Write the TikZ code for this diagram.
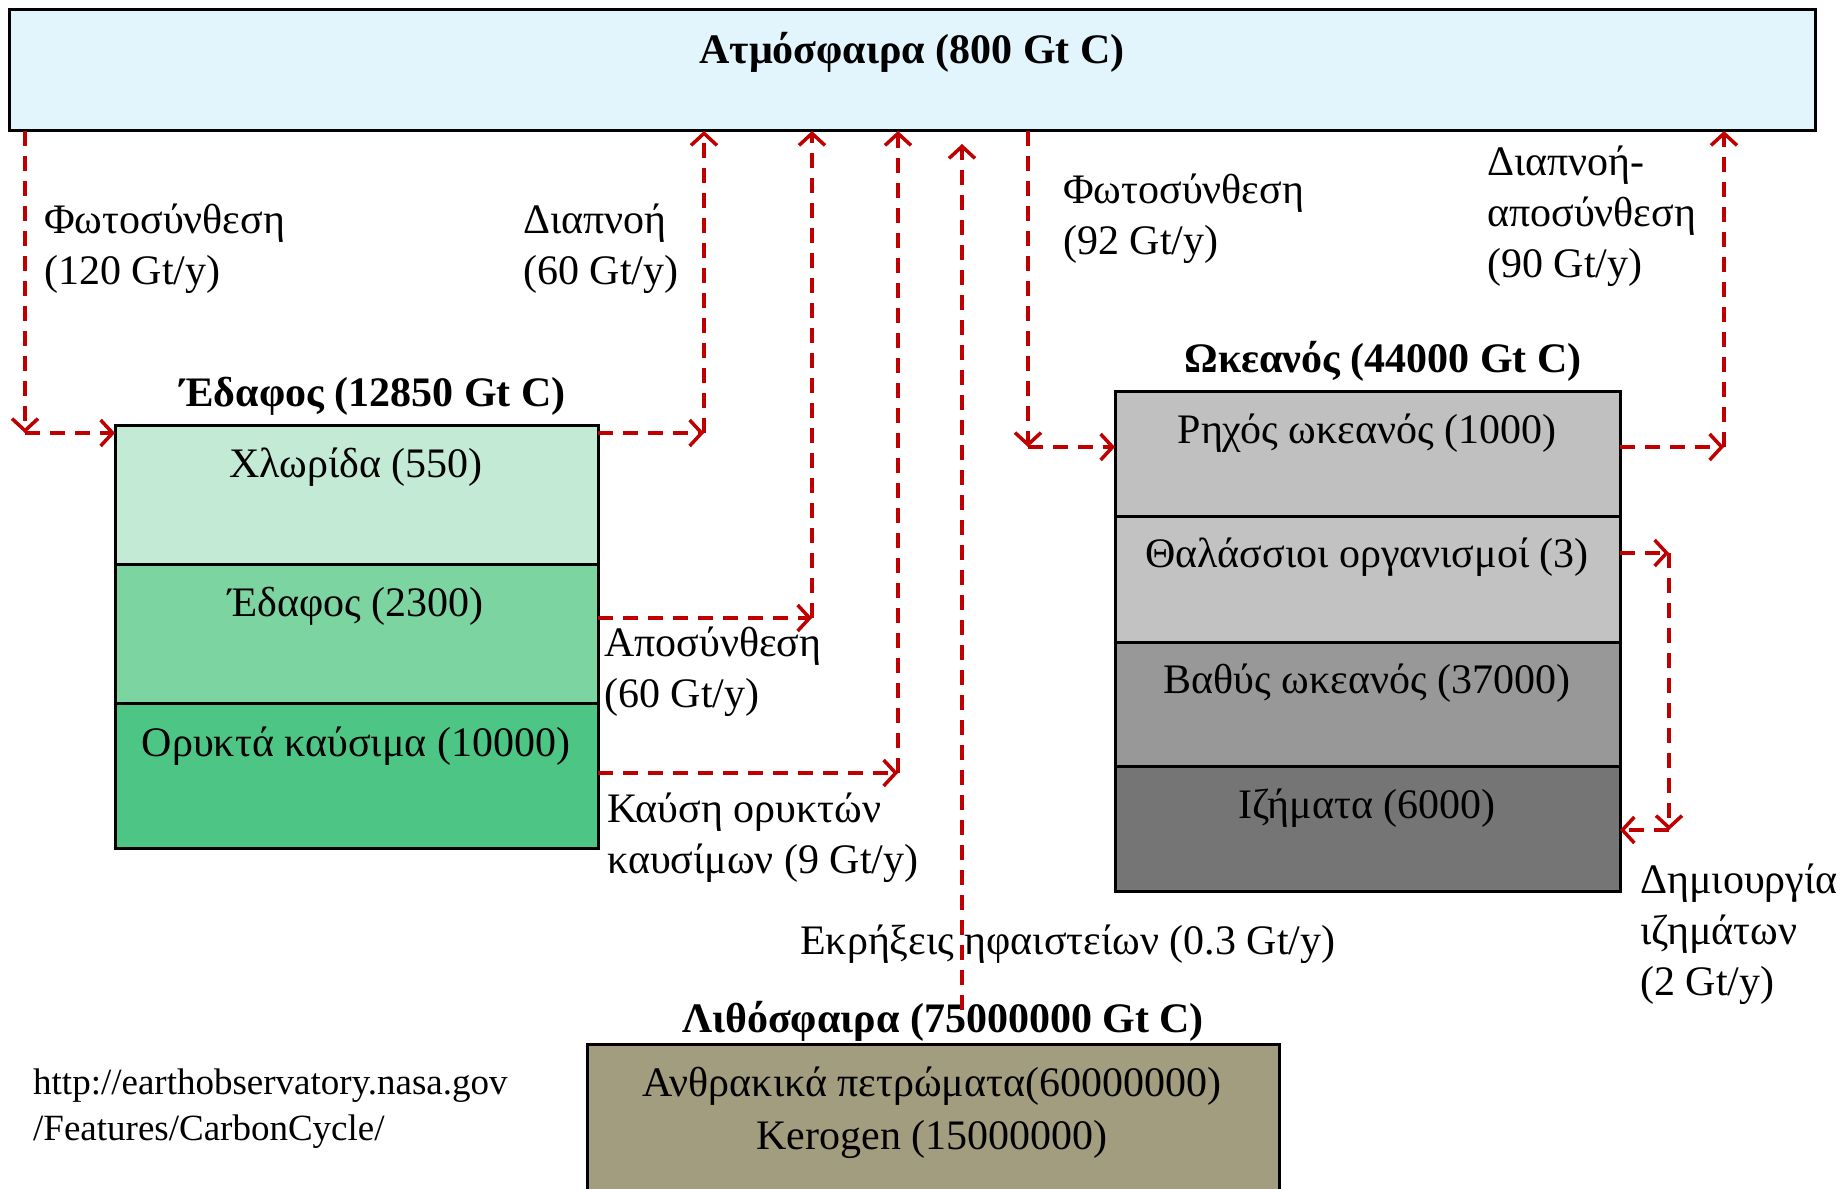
\documentclass[tikz,border=0pt]{standalone}
\usepackage{fontspec}
\setmainfont{Liberation Serif}
\usetikzlibrary{arrows.meta}
\definecolor{arrowred}{HTML}{C00000}
\definecolor{atmfill}{HTML}{E3F5FC}
\definecolor{chlfill}{HTML}{C3EAD5}
\definecolor{edfill}{HTML}{7CD4A0}
\definecolor{oilfill}{HTML}{4DC685}
\definecolor{shfill}{HTML}{C0C0C0}
\definecolor{orgfill}{HTML}{C2C2C2}
\definecolor{deepfill}{HTML}{989898}
\definecolor{sedfill}{HTML}{757575}
\definecolor{litfill}{HTML}{A29D7E}
\begin{document}
\begin{tikzpicture}[x=1pt,y=-1pt,
  box/.style={draw=black, line width=3pt, inner sep=0pt, outer sep=0pt, anchor=north west},
  flow/.style={draw=arrowred, line width=3.5pt, dash pattern=on 15pt off 10pt, -{Straight Barb[length=12pt,width=26pt]}},
  lbl/.style={font=\fontsize{42}{51}\selectfont, align=left, inner sep=0pt, anchor=west},
  ctxt/.style={font=\fontsize{42}{51}\selectfont, align=center, inner sep=0pt},
  ttl/.style={font=\bfseries\fontsize{42}{51}\selectfont, inner sep=0pt},
]
\useasboundingbox (0,0) rectangle (1846,1188);
\clip (0,0) rectangle (1846,1188);
\fill[white] (0,0) rectangle (1846,1188);

% Atmosphere
\node[box, fill=atmfill, minimum width=1806pt, minimum height=121pt] (atm) at (9,10) {};
\node[ttl] (atmT) at (912,52) {Ατμόσφαιρα (800 Gt C)};

% Soil / land
\node[ttl] (soilT) at (373,396) {Έδαφος (12850 Gt C)};
\node[box, fill=chlfill, minimum width=483pt, minimum height=139pt] (chl) at (115,425) {};
\node[box, fill=edfill, minimum width=483pt, minimum height=139pt] (ed) at (115,564) {};
\node[box, fill=oilfill, minimum width=483pt, minimum height=145pt] (oil) at (115,703) {};
\node[ctxt] (chlT) at (356,467) {Χλωρίδα (550)};
\node[ctxt] (edT) at (356,606) {Έδαφος (2300)};
\node[ctxt] (oilT) at (356,746) {Ορυκτά καύσιμα (10000)};

% Ocean
\node[ttl] (oceT) at (1383,361) {Ωκεανός (44000 Gt C)};
\node[box, fill=shfill, minimum width=505pt, minimum height=125pt] (sh) at (1115,391) {};
\node[box, fill=orgfill, minimum width=505pt, minimum height=126pt] (org) at (1115,516) {};
\node[box, fill=deepfill, minimum width=505pt, minimum height=124pt] (deep) at (1115,642) {};
\node[box, fill=sedfill, minimum width=505pt, minimum height=125pt] (sed) at (1115,766) {};
\node[ctxt] (shT) at (1367,433) {Ρηχός ωκεανός (1000)};
\node[ctxt] (orgT) at (1367,557) {Θαλάσσιοι οργανισμοί (3)};
\node[ctxt] (deepT) at (1367,683) {Βαθύς ωκεανός (37000)};
\node[ctxt] (sedT) at (1367,808) {Ιζήματα (6000)};

% Lithosphere
\node[ttl] (litT) at (943,1021) {Λιθόσφαιρα (75000000 Gt C)};
\node[box, fill=litfill, minimum width=692pt, minimum height=200pt] (lit) at (587,1044) {};
\node[ctxt] (litT1) at (932,1086) {Ανθρακικά πετρώματα(60000000)};
\node[ctxt] (litT2) at (932,1139) {Kerogen (15000000)};

% Source
\node[lbl, font=\fontsize{37}{46}\selectfont] (src) at (33,1109) {http://earthobservatory.nasa.gov\\/Features/CarbonCycle/};

% Flow labels
\node[lbl] (l1) at (44,249) {Φωτοσύνθεση\\(120 Gt/y)};
\node[lbl] (l2) at (523,249) {Διαπνοή\\(60 Gt/y)};
\node[lbl] (l3) at (604,672) {Αποσύνθεση\\(60 Gt/y)};
\node[lbl] (l4) at (607,838) {Καύση ορυκτών\\καυσίμων (9 Gt/y)};
\node[lbl] (l5) at (800,944) {Εκρήξεις ηφαιστείων (0.3 Gt/y)};
\node[lbl] (l6) at (1063,219) {Φωτοσύνθεση\\(92 Gt/y)};
\node[lbl] (l7) at (1487,216) {Διαπνοή-\\αποσύνθεση\\(90 Gt/y)};
\node[lbl] (l8) at (1640,934) {Δημιουργία\\ιζημάτων\\(2 Gt/y)};

% Corner coordinates
\coordinate (c1) at (25,433);
\coordinate (c2) at (704,433);
\coordinate (c3) at (812,618);
\coordinate (c4) at (898,773);
\coordinate (v0) at (962,1010);
\coordinate (v1) at (962,144);
\coordinate (c6) at (1028,447);
\coordinate (c7) at (1724,447);
\coordinate (c8) at (1669,553);
\coordinate (c9) at (1669,830);

% Flows
\draw[flow] (atm.south -| c1) -- (c1);
\draw[flow] (c1) -- (c1 -| chl.west);
\draw[flow] (c2 -| chl.east) -- (c2);
\draw[flow] (c2) -- (c2 |- atm.south);
\draw[flow] (c3 -| ed.east) -- (c3);
\draw[flow] (c3) -- (c3 |- atm.south);
\draw[flow] (c4 -| oil.east) -- (c4);
\draw[flow] (c4) -- (c4 |- atm.south);
\draw[flow] (v0) -- (v1);
\draw[flow] (atm.south -| c6) -- (c6);
\draw[flow] (c6) -- (c6 -| sh.west);
\draw[flow] (c7 -| sh.east) -- (c7);
\draw[flow] (c7) -- (c7 |- atm.south);
\draw[flow] (c8 -| org.east) -- (c8);
\draw[flow] (c8) -- (c9);
\draw[flow] (c9) -- (c9 -| sed.east);
\end{tikzpicture}
\end{document}
